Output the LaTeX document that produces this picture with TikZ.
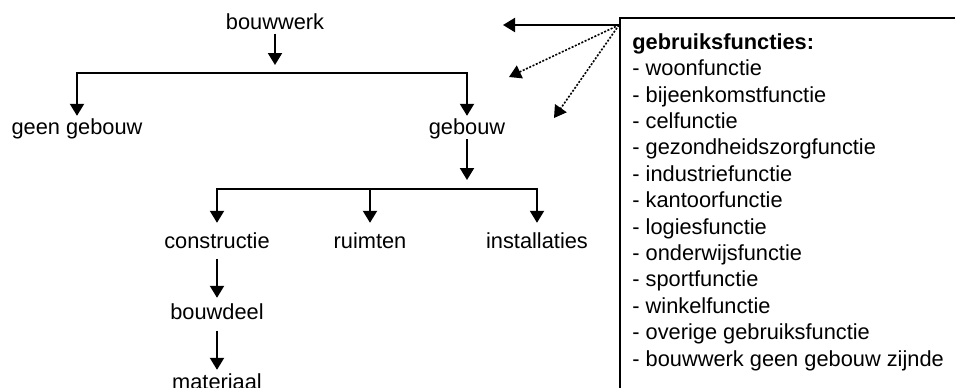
\documentclass[tikz,border=0pt]{standalone}
\usepackage{fontspec}
\setmainfont{Liberation Sans}
\usetikzlibrary{arrows.meta}

\begin{document}
\begin{tikzpicture}[
  x=0.5pt, y=-0.5pt,
  >={Triangle[width=7pt,length=6pt]},
  every node/.style={font=\fontsize{10.9}{13.2}\selectfont, inner sep=0pt},
  term/.style={anchor=base},
  pijl/.style={->, line width=1pt},
  takken/.style={<->, line width=1pt},
  stippel/.style={->, line width=0.8pt, dash pattern=on 1pt off 0.8pt},
]
  \useasboundingbox (0,0) rectangle (955,387);

  % boom
  \node[term] (bouwwerk) at (275,29) {bouwwerk};
  \node[term] (geengebouw) at (77,134) {geen gebouw};
  \node[term] (gebouw) at (467,134) {gebouw};
  \node[term] (constructie) at (217,248) {constructie};
  \node[term] (ruimten) at (370,248) {ruimten};
  \node[term] (installaties) at (537,248) {installaties};
  \node[term] (bouwdeel) at (217,319) {bouwdeel};
  \node[term] (materiaal) at (217,389) {materiaal};

  \coordinate (balk1) at (275,73);
  \coordinate (balk2) at (467,189);

  \draw[pijl, shorten <=2pt, shorten >=4pt] (bouwwerk) -- (balk1);
  \draw[takken, shorten <=1pt, shorten >=1pt]
    (geengebouw.north) |- (balk1) -| (gebouw.north);
  \draw[pijl, shorten >=4.5pt] (gebouw) -- (balk2);
  \draw[takken, shorten <=4.5pt, shorten >=4.5pt]
    (constructie.north) |- (balk2) -| (installaties.north);
  \draw[pijl, shorten >=4.5pt] (ruimten.north |- balk2) -- (ruimten.north);
  \draw[pijl, shorten <=5pt, shorten >=2.5pt] (constructie) -- (bouwdeel);
  \draw[pijl, shorten <=5.5pt, shorten >=1.5pt] (bouwdeel) -- (materiaal);

  % gebruiksfuncties
  \node[draw, line width=1pt, anchor=north west, minimum width=180pt,
    minimum height=200pt] (kader) at (619,17) {};
  \node[anchor=base west, align=left] (functies) at (632,366)
    {\textbf{gebruiksfuncties:}\\
     - woonfunctie\\
     - bijeenkomstfunctie\\
     - celfunctie\\
     - gezondheidszorgfunctie\\
     - industriefunctie\\
     - kantoorfunctie\\
     - logiesfunctie\\
     - onderwijsfunctie\\
     - sportfunctie\\
     - winkelfunctie\\
     - overige gebruiksfunctie\\
     - bouwwerk geen gebouw zijnde};

  \coordinate (hub) at ([yshift=-4pt]kader.north west);
  \coordinate (doel1) at (503,25);
  \coordinate (doel2) at (509,77);
  \coordinate (doel3) at (554,118);
  \draw[pijl] (hub) -- (doel1);
  \draw[stippel] (hub) -- (doel2);
  \draw[stippel] (hub) -- (doel3);
\end{tikzpicture}
\end{document}
